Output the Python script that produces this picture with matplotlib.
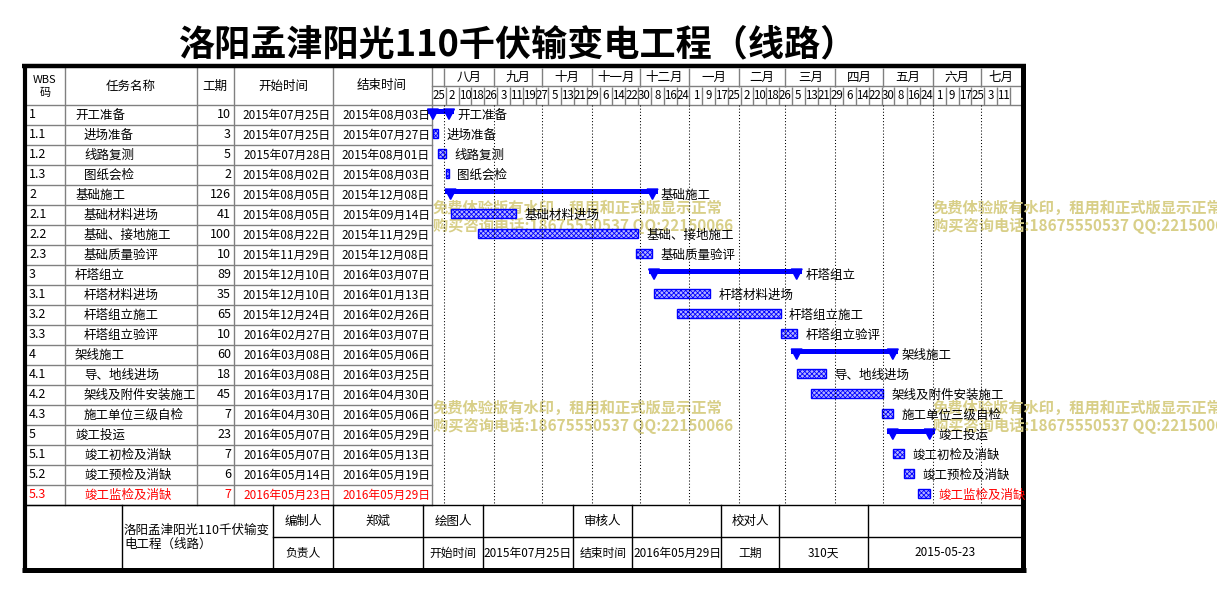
import datetime as dt
import matplotlib
matplotlib.use('Agg')
import matplotlib.pyplot as plt
import matplotlib.dates as mdates
from matplotlib.patches import Polygon

plt.rcParams['font.family'] = ['Noto Sans CJK SC', 'DejaVu Sans']
plt.rcParams['hatch.linewidth'] = 0.6

# ---- data ----
title = '洛阳孟津阳光110千伏输变电工程（线路）'
wbs = ['1', '1.1', '1.2', '1.3', '2', '2.1', '2.2', '2.3', '3', '3.1', '3.2', '3.3',
       '4', '4.1', '4.2', '4.3', '5', '5.1', '5.2', '5.3']
names = ['开工准备', '进场准备', '线路复测', '图纸会检',
         '基础施工', '基础材料进场', '基础、接地施工', '基础质量验评',
         '杆塔组立', '杆塔材料进场', '杆塔组立施工', '杆塔组立验评',
         '架线施工', '导、地线进场', '架线及附件安装施工', '施工单位三级自检',
         '竣工投运', '竣工初检及消缺', '竣工预检及消缺', '竣工监检及消缺']
durations = [10, 3, 5, 2, 126, 41, 100, 10, 89, 35, 65, 10, 60, 18, 45, 7, 23, 7, 6, 7]
starts = ['2015-07-25', '2015-07-25', '2015-07-28', '2015-08-02',
          '2015-08-05', '2015-08-05', '2015-08-22', '2015-11-29',
          '2015-12-10', '2015-12-10', '2015-12-24', '2016-02-27',
          '2016-03-08', '2016-03-08', '2016-03-17', '2016-04-30',
          '2016-05-07', '2016-05-07', '2016-05-14', '2016-05-23']
ends = ['2015-08-03', '2015-07-27', '2015-08-01', '2015-08-03',
        '2015-12-08', '2015-09-14', '2015-11-29', '2015-12-08',
        '2016-03-07', '2016-01-13', '2016-02-26', '2016-03-07',
        '2016-05-06', '2016-03-25', '2016-04-30', '2016-05-06',
        '2016-05-29', '2016-05-13', '2016-05-19', '2016-05-29']
month_names = ['八月', '九月', '十月', '十一月', '十二月', '一月',
               '二月', '三月', '四月', '五月', '六月', '七月']
footer_row1 = [('编制人', 303), ('郑斌', 378), ('绘图人', 453), ('审核人', 603), ('校对人', 750)]
footer_row2 = [('负责人', 303), ('开始时间', 453), ('2015年07月25日', 528), ('结束时间', 603),
               ('2016年05月29日', 677), ('工期', 750), ('310天', 823), ('2015-05-23', 945)]
watermark = ['免费体验版有水印，租用和正式版显示正常', '购买咨询电话:18675550537 QQ:22150066']

t0 = dt.date(2015, 7, 25)
starts = [dt.date.fromisoformat(s) for s in starts]
ends = [dt.date.fromisoformat(s) for s in ends]

def cn_date(d):
    return f'{d.year}年{d.month:02d}月{d.day:02d}日'

W, H = 1217, 593
GRAY = '#808080'
BLUE = '#0000ff'
ROW_H = 20
FS = 9

fig = plt.figure(figsize=(W / 100, H / 100), dpi=100)
ax = fig.add_axes([0, 0, 1, 1])
ax.set_xlim(0, W)
ax.set_ylim(H, 0)
ax.axis('off')

ax.text(518, 45, title, ha='center', va='center', fontsize=26, fontweight='bold')

# watermark
for wx, wy in [(433, 208), (933, 208), (433, 408), (933, 408)]:
    ax.text(wx, wy, watermark[0], color='#d8cf88', fontsize=11, fontweight='bold', va='center')
    ax.text(wx, wy + 18, watermark[1], color='#d8cf88', fontsize=11, fontweight='bold', va='center')

# ---- left table ----
cols = [26, 65, 197, 234, 333, 432]
top, head_bot = 68, 105
body_bot = head_bot + ROW_H * len(wbs)
for x in cols[1:]:
    ax.plot([x, x], [top, body_bot], color=GRAY, lw=1)
for i in range(len(wbs) + 1):
    y = head_bot + i * ROW_H
    ax.plot([26, 432], [y, y], color=GRAY, lw=1)
ax.plot([432, 1021], [86, 86], color=GRAY, lw=1)
ax.plot([432, 1021], [105, 105], color=GRAY, lw=1)

ax.text(45, 80, 'WBS', ha='center', va='center', fontsize=8)
ax.text(45, 93, '码', ha='center', va='center', fontsize=8)
for label, cx in [('任务名称', 131), ('工期', 215), ('开始时间', 283), ('结束时间', 382)]:
    ax.text(cx, 86, label, ha='center', va='center', fontsize=FS)

for i in range(len(wbs)):
    y = head_bot + i * ROW_H + ROW_H / 2
    c = 'red' if i == len(wbs) - 1 else 'black'
    sub = '.' in wbs[i]
    ax.text(29, y, wbs[i], ha='left', va='center', fontsize=FS, color=c)
    ax.text(84 if sub else 75, y, names[i], ha='left', va='center', fontsize=FS, color=c)
    ax.text(231, y, str(durations[i]), ha='right', va='center', fontsize=FS, color=c)
    ax.text(331, y, cn_date(starts[i]), ha='right', va='center', fontsize=8.5, color=c)
    ax.text(430, y, cn_date(ends[i]), ha='right', va='center', fontsize=8.5, color=c)

# ---- footer ----
f_top, f_mid, f_bot = body_bot, 537, 568
ax.plot([26, 1021], [f_top, f_top], color='black', lw=1)
ax.plot([273, 1021], [f_mid, f_mid], color='black', lw=1)
for x in [122, 273, 333, 423, 483, 573, 632, 721, 779, 868]:
    ax.plot([x, x], [f_top, f_bot], color='black', lw=1)
ax.text(124, 530, '洛阳孟津阳光110千伏输变', ha='left', va='center', fontsize=FS)
ax.text(124, 544, '电工程（线路）', ha='left', va='center', fontsize=FS)
for label, cx in footer_row1:
    ax.text(cx, 521, label, ha='center', va='center', fontsize=FS)
for label, cx in footer_row2:
    ax.text(cx, 553, label, ha='center', va='center', fontsize=8.5)

# ---- frame ----
ax.plot([22, 1026], [66, 66], color='black', lw=3.2, solid_capstyle='butt')
ax.plot([25, 25], [64, 572], color='black', lw=3, solid_capstyle='butt')
ax.plot([1023, 1023], [64, 572], color='black', lw=3.6, solid_capstyle='butt')
ax.plot([22, 1026], [569.5, 569.5], color='black', lw=3.6, solid_capstyle='butt')

# ---- gantt axes ----
x0 = mdates.date2num(t0)
xlim = (x0 - 0.6, x0 + 367)
gx = fig.add_axes([432 / W, (H - body_bot) / H, 589 / W, (body_bot - head_bot) / H])
gx.set_xlim(*xlim)
gx.set_ylim(len(wbs), 0)
gx.axis('off')
gx.patch.set_alpha(0)

hx = fig.add_axes([432 / W, (H - head_bot) / H, 589 / W, (head_bot - top) / H])
hx.set_xlim(*xlim)
hx.set_ylim(2, 0)
hx.axis('off')
hx.patch.set_alpha(0)

# month starts
month_starts = []
y, m = 2015, 8
for _ in month_names:
    month_starts.append(dt.date(y, m, 1))
    m += 1
    if m > 12:
        y, m = y + 1, 1
ms_num = [mdates.date2num(d) for d in month_starts]
hx.vlines(ms_num, 0, 1, colors=GRAY, lw=1)
for k, name in enumerate(month_names):
    left = ms_num[k]
    right = ms_num[k + 1] if k + 1 < len(ms_num) else xlim[1]
    hx.text((left + right) / 2, 0.5, name, ha='center', va='center', fontsize=FS)

# day cells every 8 days
day_cells = [t0 + dt.timedelta(days=8 * k) for k in range(45)]
dc_num = [mdates.date2num(d) for d in day_cells]
hx.vlines(dc_num[1:] + [dc_num[-1] + 8], 1, 2, colors=GRAY, lw=1)
for d, xn in zip(day_cells, dc_num):
    hx.text(xn + 4, 1.5, str(d.day), ha='center', va='center', fontsize=8.3)

gx.vlines(ms_num, 0, len(wbs), colors='black', lw=0.75, linestyles=(0, (1, 2)))

tri = 3.4  # half width of summary end markers, in days
for i in range(len(wbs)):
    s = mdates.date2num(starts[i])
    e = mdates.date2num(ends[i]) + 1
    if '.' not in wbs[i]:
        gx.barh(i + 0.325, e - s + 2 * tri, left=s - tri, height=0.25, color=BLUE, clip_on=False)
        for xe in (s, e):
            gx.add_patch(Polygon([(xe - tri, i + 0.2), (xe + tri, i + 0.2), (xe, i + 0.72)],
                                 closed=True, color=BLUE, clip_on=False))
    else:
        gx.barh(i + 0.425, e - s, left=s, height=0.45, facecolor='#b4b4ff',
                edgecolor=BLUE, hatch='xxxxxxx', lw=1)
    c = 'red' if i == len(wbs) - 1 else 'black'
    gx.text(e + 5.3, i + 0.5, names[i], ha='left', va='center', fontsize=FS, color=c, clip_on=False)

fig.savefig('out.png', dpi=100)
